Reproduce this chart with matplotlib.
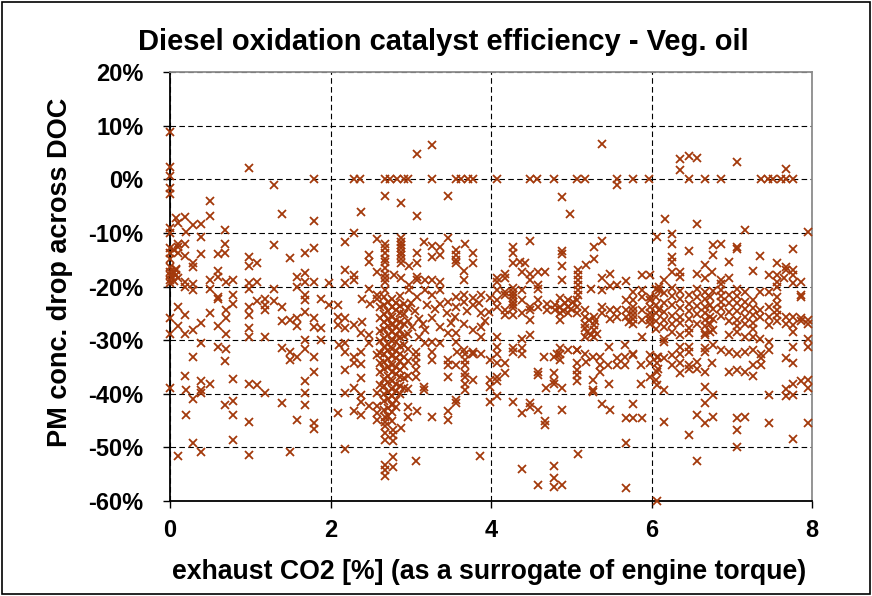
import matplotlib
matplotlib.use("Agg")
import matplotlib.pyplot as plt
import numpy as np
from matplotlib.patches import Rectangle

# Exhaust CO2 [%] vs. PM concentration drop across the DOC [%]
# Points near the zero line and above it
upper_pts = [
    (0, 8.9), (0, 2.3), (0, 0.6), (0, -1.7), (0, -2.8), (0.99, 2.1), (1.29, -1.0), (1.79, 0),
    (0.5, -4.1), (3.27, 6.3), (3.08, 4.7), (2.29, 0), (2.37, 0), (2.68, 0), (2.74, 0), (2.83, 0),
    (2.91, 0), (2.97, 0), (3.26, 0), (3.57, 0), (3.63, 0), (3.71, 0), (3.77, 0), (4.07, 0),
    (2.68, -3.2), (2.88, -4.4), (3.47, -3.2), (5.38, 6.6), (4.49, 0), (4.57, 0), (4.78, 0),
    (5.07, 0), (5.17, 0), (5.57, 0), (5.77, 0), (5.97, 0), (5.57, -1.0), (4.88, -3.3),
    (6.36, 3.8), (6.47, 4.4), (6.57, 4.0), (6.36, 1.7), (7.07, 3.3), (7.67, 1.9), (6.47, 0),
    (6.67, 0), (6.86, 0), (7.37, 0), (7.45, 0), (7.52, 0), (7.61, 0), (7.68, 0), (7.76, 0),
]

# Low-load region, CO2 below 2 %
low_load_pts = [
    (0, -9.1), (0, -10.0), (0.08, -7.3), (0.19, -7.0), (0.10, -8.2), (0.2, -9.8), (0.29, -8.6),
    (0.39, -8.3), (0.5, -6.9), (1.39, -6.4), (1.79, -7.8), (0.69, -9.4), (0.39, -10.7),
    (0.1, -12.0), (0.19, -12.0), (0.1, -12.6), (0.69, -12.0), (0.69, -13.7), (1.29, -12.3),
    (0, -13.8), (0, -14.8), (0.1, -13.8), (0.19, -14.3), (0.39, -13.9), (0.6, -13.9),
    (0.98, -14.5), (0.98, -16.2), (1.09, -15.7), (1.49, -14.6), (1.68, -13.7), (1.79, -12.8),
    (0.29, -15.7), (0.29, -16.3), (0, -16.3), (0, -17.3), (0, -17.9), (0.08, -17.0),
    (0.08, -17.9), (0.1, -18.5), (0, -18.8), (0, -19.4), (0.05, -17.5), (0.03, -18.2),
    (0.08, -16.8), (0.05, -19.0), (0, -12.9), (0.05, -13.2),
    (0.19, -19.1), (0.19, -20.0), (0.29, -19.6), (0.29, -20.7), (0.5, -18.8), (0.5, -20.4),
    (0.6, -17.1), (0.6, -18.2), (0.7, -19.1), (0.79, -18.8), (0.98, -19.3), (1.09, -19.1),
    (0.98, -20.5), (1.29, -20.5), (1.58, -18.2), (1.58, -20.0), (1.68, -17.4), (1.68, -19.1),
    (1.79, -19.1), (1.98, -19.4), (0.6, -21.9), (0.6, -22.4), (0.79, -21.6), (1.09, -22.7),
    (1.19, -22.4), (1.19, -23.5), (1.19, -24.4), (1.29, -22.7), (1.39, -23.9), (1.68, -21.6),
    (1.68, -22.6), (1.88, -22.3), (0.98, -23.8), (0.98, -25.3), (0.1, -23.8), (0, -25.9),
    (0.19, -25.3), (0.5, -25.0), (0.7, -24.4), (0.7, -25.9), (0.79, -23.3), (0.1, -27.4),
    (0.29, -28.1), (0.39, -26.8), (0.19, -28.9), (0, -28.9), (0.6, -27.4), (0.7, -28.9),
    (0.98, -27.8), (0.98, -29.5), (1.39, -26.4), (1.49, -26.3), (1.58, -25.9), (1.58, -27.4),
    (1.68, -24.7), (1.79, -25.9), (1.79, -27.6), (1.88, -27.8), (1.19, -29.5), (1.68, -30.0),
    (1.88, -29.9), (0.39, -30.5), (0.6, -31.2), (0.7, -31.7), (1.39, -31.4), (1.49, -32.2),
    (1.68, -31.7), (0.29, -33.2), (0.69, -33.8), (1.49, -33.7), (1.58, -33.1), (1.79, -33.2),
    (1.79, -35.9), (0.19, -36.7), (0.2, -39.3), (0.39, -37.7), (0.39, -39.3), (0.5, -38.1),
    (0.39, -39.8), (0.29, -41.0), (0, -39.0), (0.79, -37.3), (0.98, -38.1), (1.09, -38.4),
    (1.19, -39.8), (1.68, -37.7), (1.68, -39.8), (1.68, -42.1), (0.69, -42.1), (0.79, -41.3),
    (0.79, -43.9), (1.39, -41.8), (0.2, -43.9), (0.98, -45.2), (1.58, -44.9), (1.79, -45.4),
    (1.79, -46.6), (0.29, -49.1), (0.79, -48.7), (0.39, -50.8), (0.1, -51.7), (0.98, -51.4),
    (1.49, -50.8),
]

# Medium-load region, CO2 2-4 %
mid_load_pts = [
    (2.38, -6.1), (3.08, -6.9), (2.29, -10.0), (2.18, -11.7), (2.58, -11.2), (2.68, -12.0),
    (2.68, -12.9), (2.68, -13.8), (2.68, -14.8), (2.68, -15.4), (2.88, -11.0), (2.88, -11.7),
    (2.88, -12.3), (2.88, -12.9), (2.88, -13.5), (2.88, -14.1), (2.88, -14.8), (2.88, -15.7),
    (2.48, -14.1), (2.48, -15.4), (3.08, -13.8), (3.08, -15.7), (3.17, -11.7), (3.27, -12.5),
    (3.37, -12.7), (3.27, -14.5), (3.37, -14.2), (3.47, -10.9), (3.57, -13.2), (3.57, -14.2),
    (3.57, -15.1), (3.57, -15.7), (3.67, -12.0), (3.78, -13.7), (3.78, -15.6), (3.66, -17.1),
    (2.18, -17.0), (2.29, -17.9), (2.29, -18.8), (2.18, -19.4), (2.58, -17.3), (2.68, -16.6),
    (2.68, -17.6), (2.68, -18.5), (2.68, -19.1), (2.68, -20.7), (2.79, -17.9), (2.88, -18.5),
    (2.98, -16.2), (2.98, -19.7), (3.08, -18.2), (3.08, -18.8), (3.18, -18.8), (3.27, -18.8),
    (3.37, -19.1), (2.48, -20.5), (2.58, -21.6), (2.58, -22.4), (3.66, -18.8), (3.66, -21.6),
    (3.78, -22.2), (3.88, -21.6), (3.99, -22.2), (1.98, -23.5), (2.09, -23.5), (2.39, -22.4),
    (2.49, -23.2), (2.98, -20.7), (3.08, -22.0), (3.18, -20.7), (3.27, -21.6), (3.37, -20.7),
    (3.37, -23.2), (3.47, -22.8), (3.57, -22.0), (3.57, -23.8), (3.66, -22.8), (3.78, -23.5),
    (3.88, -25.0), (3.98, -24.7), (2.09, -25.6), (2.18, -25.9), (2.09, -27.2), (2.29, -27.2),
    (2.18, -27.8), (2.39, -26.6), (2.38, -28.7), (2.48, -29.0), (2.48, -30.6), (3.27, -25.9),
    (3.18, -28.1), (3.37, -27.5), (3.47, -28.7), (3.37, -30.6), (3.57, -28.7), (3.57, -30.3),
    (3.66, -26.9), (3.78, -28.1), (3.88, -27.5), (3.88, -29.4), (2.11, -30.9), (2.18, -30.5),
    (2.18, -32.2), (3.66, -31.8), (3.78, -32.2), (3.18, -30.6), (3.27, -30.3),
    (3.0, -23.0), (3.05, -24.5), (3.1, -26.0), (3.15, -27.0), (3.02, -27.5), (3.1, -29.5),
    (3.2, -23.5), (3.3, -24.2), (3.45, -25.0), (3.55, -25.6), (3.7, -24.5), (3.85, -23.0),
    (3.92, -26.5), (3.5, -26.8),
    (2.29, -33.1), (2.38, -32.2), (2.29, -34.3), (2.38, -34.4), (2.18, -35.6), (2.58, -32.8),
    (2.38, -37.0), (2.18, -39.8), (2.29, -39.0), (2.38, -40.2), (2.38, -41.5), (2.48, -42.3),
    (2.09, -43.5), (2.29, -43.3), (2.38, -44.0), (2.58, -39.8), (2.58, -42.3), (2.58, -43.6),
    (2.58, -44.9), (2.68, -44.3), (2.68, -45.2), (2.68, -46.1), (2.68, -47.4), (2.68, -48.6),
    (2.78, -46.7), (2.78, -47.6), (2.78, -48.9), (2.88, -46.4), (2.97, -42.4), (2.97, -44.3),
    (3.08, -43.3), (3.07, -32.2), (3.07, -33.1), (3.07, -34.3), (3.07, -35.6), (3.07, -36.8),
    (3.17, -38.7), (3.17, -39.3), (3.27, -32.2), (3.27, -33.7), (3.27, -44.3), (3.47, -33.7),
    (3.47, -34.6), (3.47, -36.8), (3.47, -43.3), (3.47, -44.9), (3.57, -34.6), (3.57, -41.8),
    (3.57, -41.2), (3.58, -32.2), (3.67, -32.5), (3.67, -33.7), (3.67, -34.6), (3.67, -36.2),
    (3.67, -36.8), (3.67, -38.1), (3.67, -39.3), (3.78, -32.5), (3.88, -32.5), (3.78, -37.4),
    (3.99, -33.7), (3.99, -37.4), (3.99, -38.7), (3.99, -41.5), (2.18, -50.3), (2.68, -53.3),
    (2.68, -54.2), (2.68, -55.3), (2.78, -51.8), (2.78, -53.6), (3.07, -52.5), (3.86, -51.7),
]

# Dense cluster of measurements around 2.6-3.0 % CO2
cluster_pts = [
    (2.62, -23.8), (2.62, -25.9), (2.62, -28.3), (2.62, -30.1), (2.62, -32.4), (2.62, -34.2),
    (2.62, -36.0), (2.62, -38.3),
    (2.67, -21.9), (2.67, -23.4), (2.67, -25.1), (2.67, -26.7), (2.67, -28.0), (2.67, -29.6),
    (2.67, -31.2), (2.67, -32.6), (2.67, -34.1), (2.67, -35.4), (2.67, -37.2), (2.67, -38.6),
    (2.67, -40.1), (2.67, -41.4), (2.67, -43.0),
    (2.72, -22.8), (2.72, -24.6), (2.72, -26.1), (2.72, -27.4), (2.72, -29.0), (2.72, -30.7),
    (2.72, -31.9), (2.72, -33.6), (2.72, -35.1), (2.72, -36.6), (2.72, -37.9), (2.72, -39.6),
    (2.72, -41.0), (2.72, -42.6), (2.72, -44.1),
    (2.77, -22.4), (2.77, -23.9), (2.77, -25.6), (2.77, -27.1), (2.77, -28.4), (2.77, -30.1),
    (2.77, -31.6), (2.77, -33.0), (2.77, -34.6), (2.77, -35.9), (2.77, -37.6), (2.77, -39.1),
    (2.77, -40.4), (2.77, -42.1), (2.77, -43.4), (2.77, -45.0),
    (2.82, -23.1), (2.82, -24.4), (2.82, -26.2), (2.82, -27.6), (2.82, -29.1), (2.82, -30.4),
    (2.82, -32.1), (2.82, -33.4), (2.82, -35.1), (2.82, -36.4), (2.82, -38.1), (2.82, -39.4),
    (2.82, -41.1), (2.82, -42.4),
    (2.87, -21.8), (2.87, -23.6), (2.87, -24.9), (2.87, -26.6), (2.87, -28.1), (2.87, -29.4),
    (2.87, -31.1), (2.87, -32.6), (2.87, -33.9), (2.87, -35.6), (2.87, -36.9), (2.87, -38.6),
    (2.87, -40.1),
    (2.92, -23.2), (2.92, -25.1), (2.92, -26.9), (2.92, -29.2), (2.92, -30.9), (2.92, -33.1),
    (2.92, -34.9), (2.92, -37.1), (2.92, -38.9),
    (2.97, -24.1), (2.97, -26.4), (2.97, -28.9), (2.97, -31.6), (2.97, -33.9), (2.97, -36.6),
    (2.97, -39.2),
]

# Higher-load region, CO2 4-6 %
high_load_pts = [
    (4.98, -6.4), (4.48, -11.5), (4.28, -12.7), (4.28, -13.7), (4.88, -13.3), (4.88, -14.0),
    (5.28, -12.6), (5.38, -11.5), (5.28, -14.9), (5.18, -16.0), (4.28, -15.6), (4.36, -15.4),
    (4.42, -15.6), (4.88, -16.2), (4.88, -18.8), (5.08, -16.9), (5.08, -17.9), (5.08, -18.8),
    (5.08, -19.7), (5.08, -20.7), (5.08, -21.6), (4.08, -18.5), (4.18, -17.6), (4.18, -18.5),
    (4.08, -19.1), (4.39, -17.3), (4.49, -17.6), (4.59, -17.3), (4.67, -17.3), (4.49, -18.8),
    (4.59, -19.7), (4.59, -20.4), (4.39, -20.7), (5.38, -18.5), (5.48, -17.6), (5.68, -18.9),
    (5.88, -17.9), (5.98, -17.9), (6.09, -20.0), (5.24, -20.4), (5.38, -20.7), (5.48, -19.9),
    (5.57, -19.7),
    (4.08, -20.7), (4.18, -21.0), (4.18, -21.6), (4.28, -21.0), (4.28, -22.2), (4.28, -23.5),
    (4.39, -22.5), (4.08, -22.5), (4.08, -23.8), (4.18, -24.4), (4.18, -25.3), (4.28, -25.3),
    (4.39, -25.0), (4.49, -23.8), (4.49, -24.4), (4.49, -26.3), (4.59, -22.5), (4.59, -23.8),
    (4.70, -23.2), (4.70, -24.4), (4.80, -23.5), (4.80, -24.4), (4.86, -22.2), (4.86, -23.8),
    (4.86, -25.0), (4.86, -26.3), (4.96, -22.5), (4.96, -23.8), (4.96, -25.0), (5.07, -22.5),
    (5.07, -23.8), (5.07, -25.0), (5.17, -24.4), (5.17, -25.6), (5.17, -26.9), (5.17, -27.8),
    (5.28, -25.6), (5.28, -27.2), (5.28, -28.1), (5.38, -23.8), (5.38, -25.0), (5.48, -24.4),
    (5.48, -26.0), (5.57, -24.4), (5.57, -25.6), (5.68, -22.5), (5.68, -24.4), (5.68, -25.6),
    (5.77, -21.0), (5.77, -22.5), (5.77, -23.8), (5.88, -20.7), (5.88, -21.9), (5.88, -24.4),
    (5.88, -26.3), (5.98, -21.9), (5.98, -23.8), (5.98, -26.3), (6.09, -20.7), (6.09, -24.4),
    (4.28, -20.3), (4.28, -21.6), (4.28, -22.8), (4.28, -24.0), (4.92, -23.0), (5.0, -24.2),
    (5.02, -22.8), (4.9, -24.6), (5.2, -28.5), (5.25, -29.0), (5.22, -26.2), (5.3, -26.5),
    (5.32, -28.8), (5.77, -24.5), (5.77, -25.3), (5.77, -26.0), (5.98, -22.6), (5.98, -24.9),
    (5.98, -25.6), (5.98, -27.0), (5.77, -27.0), (5.72, -26.6),
    (4.08, -29.4), (4.08, -31.2), (4.28, -31.5), (4.39, -29.7), (4.39, -31.5), (4.49, -29.0),
    (4.82, -32.5), (4.86, -31.5), (4.96, -31.8), (5.07, -31.8), (5.17, -29.4), (5.28, -29.4),
    (5.47, -31.2), (5.67, -30.9), (5.77, -32.5), (5.88, -29.4),
    (4.08, -32.5), (4.18, -34.3), (4.08, -34.3), (4.18, -36.2), (4.08, -36.8), (4.08, -37.7),
    (4.28, -32.2), (4.39, -32.5), (4.66, -33.1), (4.78, -33.1), (4.86, -32.5), (4.86, -33.7),
    (4.58, -35.9), (4.58, -36.5), (4.78, -36.2), (4.78, -37.7), (4.78, -38.1), (4.68, -39.0),
    (4.88, -39.0), (5.07, -31.8), (5.17, -32.5), (5.07, -34.3), (5.07, -35.6), (5.07, -36.5),
    (5.07, -37.7), (5.19, -34.0), (5.27, -33.1), (5.36, -33.1), (5.36, -34.6), (5.36, -35.9),
    (5.27, -37.4), (5.27, -39.3), (5.27, -39.6), (5.46, -34.6), (5.47, -38.1), (5.57, -33.4),
    (5.57, -34.6), (5.67, -33.1), (5.67, -34.6), (5.77, -32.8), (5.87, -34.6), (5.87, -38.1),
    (5.98, -32.8), (5.98, -34.3), (5.98, -36.8), (6.08, -33.1), (6.08, -35.3), (6.06, -37.4),
    (4.08, -40.5), (4.28, -41.5), (4.39, -43.6), (4.48, -41.8), (4.48, -42.4), (4.58, -43.1),
    (4.67, -45.0), (4.67, -45.8), (4.88, -43.1), (5.38, -41.9), (5.48, -43.1), (5.68, -44.6),
    (5.77, -44.6), (5.88, -44.6), (5.77, -41.9), (5.68, -49.1), (5.08, -51.2), (4.39, -54.1),
    (4.78, -53.4), (4.78, -55.8), (4.58, -57.0), (4.78, -57.4), (4.88, -57.0), (5.68, -57.6),
]

# Full-load region, CO2 6-8 %
full_load_pts = [
    (6.17, -7.5), (6.57, -8.4), (7.17, -9.4), (7.95, -9.8), (6.07, -10.7), (6.26, -10.2),
    (6.26, -12.0), (6.77, -12.3), (6.86, -12.0), (6.77, -14.2), (6.47, -13.4), (7.07, -12.7),
    (7.07, -13.1), (7.35, -14.3), (7.76, -13.1), (6.26, -14.5), (6.26, -15.4), (6.96, -15.4),
    (6.67, -15.9), (7.56, -15.7), (7.67, -16.4), (7.67, -16.9), (7.76, -16.9), (7.27, -17.1),
    (7.46, -17.9), (7.56, -17.9), (7.76, -17.9), (7.65, -18.5), (6.26, -17.3), (6.36, -17.3),
    (6.36, -18.2), (6.57, -17.6), (6.76, -17.3), (6.67, -18.5), (6.86, -18.8), (6.96, -18.5),
    (7.07, -20.4), (7.56, -19.1), (7.56, -20.0), (7.76, -19.3), (7.86, -19.1), (7.86, -21.6),
    (7.86, -22.0), (7.46, -21.0), (7.35, -21.0), (7.56, -21.9), (7.56, -23.2), (6.16, -18.8),
    (6.05, -20.5), (6.05, -22.0), (6.05, -23.5), (6.05, -25.0), (6.05, -26.5), (6.05, -28.0),
    (6.16, -21.2), (6.16, -23.0), (6.16, -24.8), (6.16, -26.2), (6.16, -27.5), (6.16, -29.7),
    (6.16, -30.3), (6.26, -20.2), (6.26, -21.8), (6.26, -23.4), (6.26, -25.5), (6.26, -27.0),
    (6.26, -28.4), (6.36, -20.8), (6.36, -22.4), (6.36, -24.0), (6.36, -25.6), (6.36, -26.8),
    (6.36, -29.0), (6.36, -31.2), (6.47, -21.5), (6.47, -23.2), (6.47, -24.6), (6.47, -26.0),
    (6.47, -27.8), (6.47, -28.7), (6.47, -31.2), (6.57, -20.4), (6.57, -22.0), (6.57, -23.6),
    (6.57, -25.2), (6.57, -27.0), (6.67, -21.0), (6.67, -22.4), (6.67, -23.8), (6.67, -25.0),
    (6.67, -26.2), (6.67, -27.4), (6.67, -28.6), (6.67, -29.0), (6.67, -31.5), (6.73, -22.0),
    (6.73, -23.5), (6.73, -25.6), (6.73, -27.0), (6.73, -28.4), (6.77, -20.8), (6.77, -24.2),
    (6.77, -26.0), (6.77, -28.1), (6.77, -30.9), (6.86, -19.6), (6.86, -20.6), (6.86, -21.7),
    (6.86, -22.8), (6.86, -24.0), (6.86, -25.5), (6.96, -21.5), (6.96, -23.0), (6.96, -24.8),
    (6.96, -26.5), (6.96, -29.0), (6.96, -32.2), (7.07, -21.8), (7.07, -23.0), (7.07, -24.6),
    (7.07, -26.3), (7.07, -27.4), (7.07, -28.4), (7.17, -21.0), (7.17, -22.8), (7.17, -24.2),
    (7.17, -25.6), (7.17, -27.0), (7.17, -29.4), (7.17, -32.2), (7.27, -22.6), (7.27, -24.0),
    (7.27, -25.4), (7.27, -26.8), (7.27, -28.0), (7.27, -29.4), (7.35, -24.4), (7.35, -25.6),
    (7.35, -29.7), (7.46, -23.8), (7.46, -25.6), (7.46, -27.2), (7.46, -30.3), (7.46, -31.8),
    (7.56, -24.4), (7.56, -25.4), (7.56, -26.5), (7.67, -25.6), (7.67, -27.0), (7.76, -25.6),
    (7.76, -27.2), (7.76, -28.4), (7.76, -31.2), (7.86, -25.8), (7.86, -26.4), (7.95, -26.3),
    (7.95, -27.0), (7.95, -29.7), (7.95, -31.2),
    (6.07, -33.1), (6.16, -33.4), (6.26, -32.8), (6.36, -32.5), (6.47, -32.3), (6.67, -32.2),
    (6.86, -31.8), (7.07, -32.5), (7.27, -31.8), (7.37, -32.5), (6.26, -34.6), (6.36, -34.3),
    (6.47, -34.6), (6.57, -34.0), (6.76, -34.3), (6.07, -34.3), (6.07, -35.9), (6.36, -36.2),
    (6.47, -35.3), (6.57, -35.3), (6.67, -35.9), (6.96, -35.9), (7.07, -35.6), (7.17, -35.9),
    (7.27, -36.7), (7.27, -34.6), (7.37, -34.6), (7.37, -33.4), (7.67, -33.4), (7.76, -34.2),
    (7.86, -37.6), (7.95, -37.4), (7.76, -38.1), (7.67, -39.2), (7.67, -40.5), (7.76, -40.2),
    (7.95, -39.0), (6.07, -38.4), (6.16, -39.3), (6.67, -38.8), (6.77, -40.2), (6.67, -41.8),
    (7.46, -40.2), (6.16, -45.2), (6.57, -43.9), (6.67, -45.5), (6.77, -44.3), (7.07, -44.6),
    (7.17, -44.3), (7.46, -45.4), (7.95, -45.4), (7.07, -46.7), (6.47, -47.6), (7.76, -48.5),
    (7.07, -50.0), (6.57, -52.5), (6.07, -60.0),
]

y_ticks = [20, 10, 0, -10, -20, -30, -40, -50, -60]
y_tick_labels = ["20%", "10%", "0%", "-10%", "-20%", "-30%", "-40%", "-50%", "-60%"]
x_ticks = [0, 2, 4, 6, 8]
x_tick_labels = ["0", "2", "4", "6", "8"]

plt.rcParams["font.family"] = ["Liberation Sans", "DejaVu Sans"]

all_pts = np.array(upper_pts + low_load_pts + mid_load_pts + cluster_pts
                   + high_load_pts + full_load_pts)
co2 = all_pts[:, 0]
pm_drop = all_pts[:, 1]

W, H = 872, 596
fig = plt.figure(figsize=(W / 100, H / 100), dpi=100)
fig.patch.set_facecolor("white")
ax = fig.add_axes([170 / W, 1 - 501 / H, (812 - 170) / W, (501 - 72) / H])

ax.plot(co2, pm_drop, linestyle="none", marker="x", markersize=5.8,
        markeredgewidth=1.3, color="#a3390b", clip_on=False, zorder=3)

ax.set_xlim(0, 8)
ax.set_ylim(-60, 20)
ax.set_xticks(x_ticks)
ax.set_xticklabels(x_tick_labels)
ax.set_yticks(y_ticks)
ax.set_yticklabels(y_tick_labels)
for lbl in ax.get_xticklabels() + ax.get_yticklabels():
    lbl.set_fontweight("bold")
ax.tick_params(axis="both", direction="out", length=5, width=1,
               labelsize=17, color="black")
ax.tick_params(axis="y", pad=14)
ax.tick_params(axis="x", pad=8)

ax.grid(True, color="black", linestyle=(0, (5, 3)), linewidth=0.8)
ax.set_axisbelow(True)

for side in ("left", "bottom"):
    ax.spines[side].set_color("black")
    ax.spines[side].set_linewidth(1.3)
for side in ("top", "right"):
    ax.spines[side].set_color("#8c8c8c")
    ax.spines[side].set_linewidth(1.3)

fig.text(443 / W, 1 - 42 / H, "Diesel oxidation catalyst efficiency - Veg. oil",
         ha="center", va="center", fontsize=21, fontweight="bold")
fig.text(489 / W, 1 - 572 / H, "exhaust CO2 [%] (as a surrogate of engine torque)",
         ha="center", va="center", fontsize=19.2, fontweight="bold")
fig.text(60 / W, 1 - 272 / H, "PM conc. drop across DOC", rotation=90,
         ha="center", va="center", fontsize=19.5, fontweight="bold")

fig.patches.append(Rectangle((2 / W, 2 / H), 1 - 4 / W, 1 - 4 / H,
                             transform=fig.transFigure, fill=False,
                             edgecolor="black", linewidth=1.2))

fig.savefig("out.png", dpi=100)
